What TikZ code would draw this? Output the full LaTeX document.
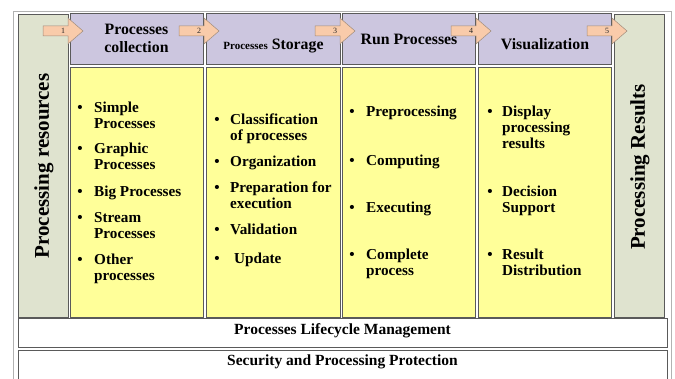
\documentclass[tikz,border=0pt]{standalone}
\usepackage{fontspec}
\setmainfont{Liberation Serif}
\usetikzlibrary{calc}

\definecolor{resgreen}{HTML}{DFE3CF}
\definecolor{headpurple}{HTML}{CCC6DF}
\definecolor{listyellow}{HTML}{FFFF99}
\definecolor{arrowpeach}{HTML}{F9CBAA}
\definecolor{arrowline}{HTML}{A08C7C}
\definecolor{boxline}{HTML}{5A5A5A}

% item text whose baseline is its first line
\newcommand{\itemlines}[1]{\begin{tabular}[t]{@{}l@{}}#1\end{tabular}}

\begin{document}
\begin{tikzpicture}[x=1pt,y=-1pt,
    box/.style={draw=boxline, line width=1pt},
    itemtext/.style={font=\bfseries\fontsize{15.2}{15.7}\selectfont, inner sep=0pt, anchor=base west},
    bul/.style={font=\bfseries\fontsize{15.2}{15.7}\selectfont, inner sep=0pt, anchor=base},
    headtext/.style={font=\bfseries\fontsize{15.8}{18}\selectfont, align=center, inner sep=0pt, anchor=base},
    sidetext/.style={font=\bfseries\fontsize{21}{24}\selectfont, inner sep=0pt, rotate=90},
    bottomtext/.style={font=\bfseries\fontsize{15.5}{18}\selectfont, inner sep=0pt, anchor=base}]

        \useasboundingbox (0,0) rectangle (675,379);

        % Outer frame
        \draw[gray!60, line width=0.6pt] (13,11) rectangle (671,395);

        % Side columns
        \draw[box, fill=resgreen] (18,15) rectangle (68,318);
        \draw[box, fill=resgreen] (614,15) rectangle (664,318);

        % Header boxes and list boxes
        \foreach \l/\r in {70/203, 206/340, 342/475, 478/611} {
            \draw[box, fill=headpurple] (\l,14) rectangle (\r,65);
            \draw[box, fill=listyellow] (\l,68) rectangle (\r,318);
        }

        % Step arrows with their numbers
        \foreach \l [count=\i] in {70,206,342,478,614} {
            \draw[draw=arrowline, fill=arrowpeach, line width=0.5pt]
                (\l-27,26) -- (\l-2,26) -- (\l-2,18) -- (\l+13,31)
                -- (\l-2,44) -- (\l-2,36) -- (\l-27,36) -- cycle;
            \node[font=\fontsize{8}{8}\selectfont, text=black!85, inner sep=0pt] (num\i) at (\l-7,31) {\i};
        }

        % Side labels
        \node[sidetext] (resources) at (44,166) {Processing resources};
        \node[sidetext] (results) at (640,167) {Processing Results};

        % Header labels
        \node[headtext] (collection) at (136.5,53) {Processes\\collection};
        \node[headtext] (storage) at (273.5,50) {{\fontsize{11}{13}\selectfont Processes} Storage};
        \node[headtext] (run) at (409,45) {Run Processes};
        \node[headtext] (visual) at (545,50) {Visualization};

        % Items of the first column
        \foreach \y/\t [count=\i] in {113/{Simple\\Processes}, 154/{Graphic\\Processes},
                197/{Big Processes}, 223/{Stream\\Processes}, 265/{Other\\processes}} {
            \node[bul] (b1\i) at (80,\y) {\textbullet};
            \node[itemtext] (t1\i) at (94,\y) {\itemlines{\t}};
        }

        % Items of the second column
        \foreach \y/\t [count=\i] in {125/{Classification\\of processes}, 167/{Organization},
                193/{Preparation for\\execution}, 235/{Validation}, 264/{\hspace*{4pt}Update}} {
            \node[bul] (b2\i) at (217,\y) {\textbullet};
            \node[itemtext] (t2\i) at (230,\y) {\itemlines{\t}};
        }

        % Items of the third column
        \foreach \y/\t [count=\i] in {117/{Preprocessing}, 166/{Computing},
                213/{Executing}, 260/{Complete\\process}} {
            \node[bul] (b3\i) at (352,\y) {\textbullet};
            \node[itemtext] (t3\i) at (366,\y) {\itemlines{\t}};
        }

        % Items of the fourth column
        \foreach \y/\t [count=\i] in {117/{Display\\processing\\results}, 197/{Decision\\Support},
                260/{Result\\Distribution}} {
            \node[bul] (b4\i) at (490,\y) {\textbullet};
            \node[itemtext] (t4\i) at (502,\y) {\itemlines{\t}};
        }

        % Bottom layers
        \draw[box, fill=white] (18,319) rectangle (667,348);
        \node[bottomtext] (lifecycle) at (342.5,335) {Processes Lifecycle Management};
        \draw[box, fill=white] (18,351) rectangle (667,395);
        \node[bottomtext] (security) at (342.5,366) {Security and Processing Protection};

\end{tikzpicture}
\end{document}
